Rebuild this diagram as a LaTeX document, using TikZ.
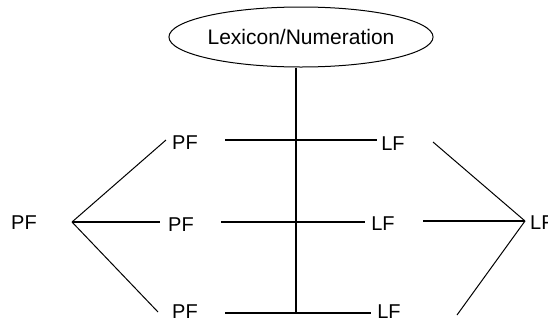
\documentclass[tikz,border=0pt]{standalone}
\usepackage{fontspec}
\setmainfont{Liberation Sans}
\usetikzlibrary{shapes.geometric}
\begin{document}
\begin{tikzpicture}[x=1pt,y=-1pt,
  lbl/.style={inner sep=0pt,font=\fontsize{20}{20}\selectfont},
  ln/.style={line width=1.3pt,black},
  dg/.style={line width=1pt,black}]
\useasboundingbox (0,0) rectangle (548,322);
% ellipse
\node[draw,ellipse,line width=1pt,minimum width=222pt,minimum height=60pt,inner sep=0pt,font=\fontsize{21}{21}\selectfont] (lex) at (301,37) {Lexicon/Numeration};
% vertical spine
\coordinate (vbot) at (296,313);
\draw[ln] (lex.south -| vbot) -- (vbot);
% labels
\node[lbl] (pf0) at (24,223) {PF};
\node[lbl] (pf1) at (185,143) {PF};
\node[lbl] (pf2) at (181,225) {PF};
\node[lbl] (pf3) at (185,312) {PF};
\node[lbl] (lf1) at (393,144) {LF};
\node[lbl] (lf2) at (383,224) {LF};
\node[lbl] (lf3) at (389,312) {LF};
\node[lbl,anchor=west] (lf0) at (530,223) {LF};
% horizontal lines
\coordinate (h1a) at (225,140); \coordinate (h1b) at (377,140);
\coordinate (h2a) at (221,222); \coordinate (h2b) at (365,222);
\coordinate (h3a) at (225,313); \coordinate (h3b) at (371,313);
\draw[ln] (h1a) -- (h1b);
\draw[ln] (h2a) -- (h2b);
\draw[ln] (h3a) -- (h3b);
% left fan
\coordinate (lv) at (72,222);
\coordinate (l1) at (166,140);
\coordinate (l2) at (160,222);
\coordinate (l3) at (158,312);
\draw[dg] (lv) -- (l1);
\draw[ln] (lv) -- (l2);
\draw[dg] (lv) -- (l3);
% right fan
\coordinate (rv) at (525,221);
\coordinate (r1) at (433,142);
\coordinate (r2) at (423,221);
\coordinate (r3) at (457,315);
\draw[dg] (r1) -- (rv);
\draw[ln] (r2) -- (rv);
\draw[dg] (r3) -- (rv);
\end{tikzpicture}
\end{document}
